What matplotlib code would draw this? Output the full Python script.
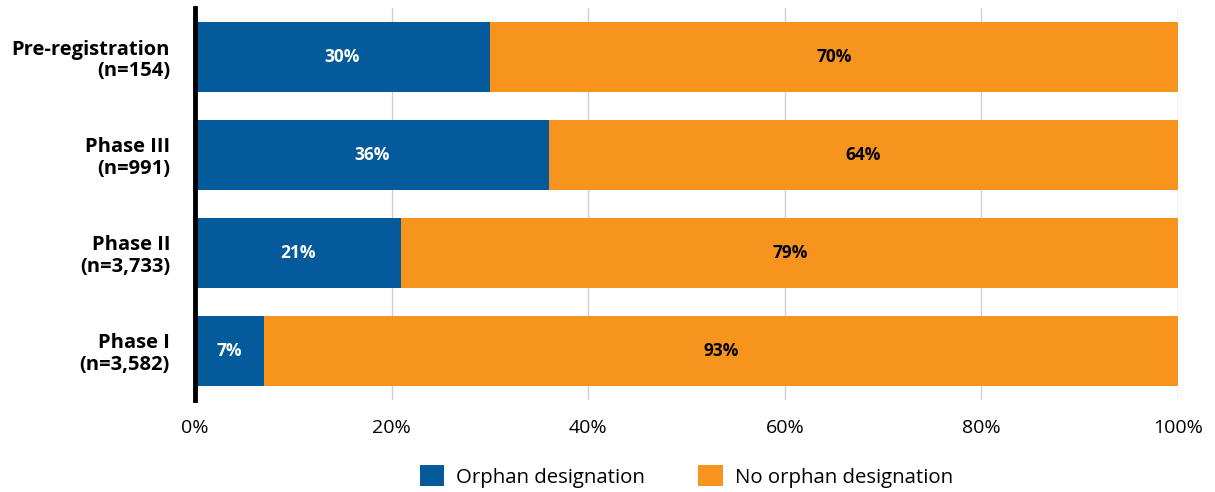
import matplotlib.pyplot as plt
import numpy as np

plt.rcParams['font.family'] = ['Open Sans', 'DejaVu Sans']

stages = ['Pre-registration\n(n=154)', 'Phase III\n(n=991)', 'Phase II\n(n=3,733)', 'Phase I\n(n=3,582)']
orphan = [30, 36, 21, 7]
no_orphan = [70, 64, 79, 93]

blue = '#045A9A'
orange = '#F7941E'

fig = plt.figure(figsize=(12.15, 4.92), dpi=100)
ax = fig.add_axes([195 / 1215, 1 - 400 / 492, (1178 - 195) / 1215, 392 / 492])

y = np.arange(len(stages))
h = 0.71
ax.barh(y, orphan, height=h, color=blue, label='Orphan designation', zorder=3)
ax.barh(y, no_orphan, left=orphan, height=h, color=orange, label='No orphan designation', zorder=3)

for i in range(len(stages)):
    ax.text(orphan[i] / 2, y[i], f'{orphan[i]}%', ha='center', va='center',
            color='white', fontsize=12.5, fontweight='bold', zorder=4)
    ax.text(orphan[i] + no_orphan[i] / 2, y[i], f'{no_orphan[i]}%', ha='center', va='center',
            color='black', fontsize=12.5, fontweight='bold', zorder=4)

ax.set_xlim(0, 100)
ax.set_ylim(3.5, -0.5)
ax.set_xticks(np.arange(0, 101, 20))
ax.set_xticklabels([f'{v}%' for v in range(0, 101, 20)], fontsize=14)
ax.set_yticks(y)
ax.set_yticklabels(stages, fontsize=14.5, fontweight='bold', linespacing=1.1)
ax.tick_params(axis='y', length=0, pad=18)
ax.tick_params(axis='x', length=0, pad=14)
ax.grid(axis='x', color='#D0D0D0', linewidth=1, zorder=0)
for s in ['top', 'right', 'bottom']:
    ax.spines[s].set_visible(False)
ax.spines['left'].set_linewidth(3.5)
ax.spines['left'].set_zorder(5)

ax.legend(loc='upper center', bbox_to_anchor=(0.5, -0.12), ncol=2, frameon=False,
          fontsize=14.7, handlelength=1.2, handleheight=1.2, columnspacing=2.6, handletextpad=0.6)

fig.savefig('out.png', dpi=100)
